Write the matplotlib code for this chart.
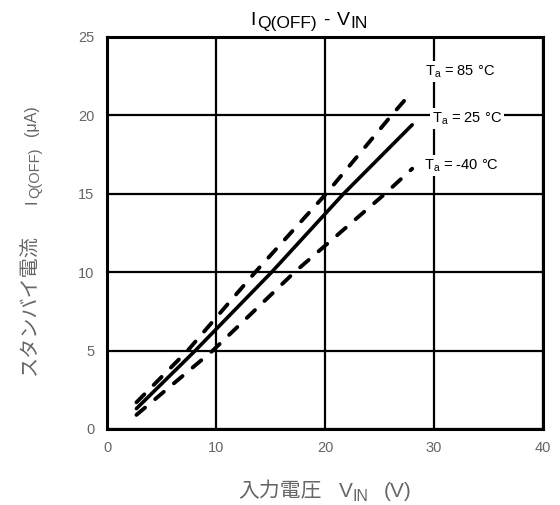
import matplotlib
matplotlib.use("Agg")
import matplotlib.pyplot as plt

plt.rcParams['font.family'] = ['Liberation Sans', 'Noto Sans CJK JP', 'DejaVu Sans']
plt.rcParams['mathtext.fontset'] = 'custom'
plt.rcParams['mathtext.rm'] = 'Liberation Sans'
plt.rcParams['mathtext.it'] = 'Liberation Sans'

# Ta = 85 °C
vin_85 = [2.7, 7.4, 13.6, 20.1, 26.1, 27.6]
i_85 = [1.7, 5.0, 10.0, 15.0, 20.0, 21.2]
# Ta = 25 °C
vin_25 = [2.7, 8.1, 15.1, 21.7, 28.0]
i_25 = [1.3, 5.0, 10.0, 15.0, 19.4]
# Ta = -40 °C
vin_m40 = [2.7, 9.7, 17.2, 25.5, 28.0]
i_m40 = [0.9, 5.0, 10.0, 15.0, 16.6]

x_ticks = [0, 10, 20, 30, 40]
y_ticks = [0, 5, 10, 15, 20, 25]

W, H = 560, 505
fig = plt.figure(figsize=(5.6, 5.05), dpi=100)
ax = fig.add_axes([107/W, 1-429/H, 436/W, 392/H])

dash = (0, (2.9, 3.4))
ax.plot(vin_85, i_85, color='black', lw=2.8, ls=dash, dash_capstyle='round', zorder=3)
ax.plot(vin_25, i_25, color='black', lw=2.6, ls='-', solid_capstyle='round', zorder=3)
ax.plot(vin_m40, i_m40, color='black', lw=2.8, ls=dash, dash_capstyle='round', zorder=3)

ax.set_xlim(0, 40)
ax.set_ylim(0, 25)
ax.set_xticks(x_ticks)
ax.set_yticks(y_ticks)
ax.grid(True, color='black', lw=1.6)
ax.set_axisbelow(True)
for s in ax.spines.values():
    s.set_linewidth(2.2)
ax.tick_params(length=0, labelsize=10.5, colors='#666666', pad=9)

lab_kw = dict(fontsize=10.5, color='black', ha='center', va='center', zorder=4,
              bbox=dict(facecolor='white', edgecolor='none', pad=1.5))
ax.text(32.4, 22.8, r"T$_{\mathrm{a}}$ = 85 °C", **lab_kw)
ax.text(33.0, 19.8, r"T$_{\mathrm{a}}$ = 25 °C", **lab_kw)
ax.text(32.5, 16.8, r"T$_{\mathrm{a}}$ = -40 °C", **lab_kw)

fig.canvas.draw()
r = fig.canvas.get_renderer()
CJK = ['Noto Sans CJK JP', 'DejaVu Sans']
LAT = ['Liberation Sans', 'DejaVu Sans']


def chain(pieces, center, base, color, vertical=False):
    """pieces: (text, size, shift_px, gap_before_px, family)"""
    objs = []
    for txt, size, shift, gap, fam in pieces:
        if vertical:
            t = fig.text(0, 0, txt, fontsize=size, color=color, family=fam,
                         rotation=90, rotation_mode='anchor', ha='left', va='baseline')
        else:
            t = fig.text(0, 0, txt, fontsize=size, color=color, family=fam,
                         ha='left', va='baseline')
        ext = t.get_window_extent(r)
        length = ext.height if vertical else ext.width
        objs.append((t, length, shift, gap))
    total = sum(l + g for _, l, _, g in objs)
    pos = center - total / 2
    for t, l, shift, gap in objs:
        pos += gap
        if vertical:
            t.set_position(((base + shift) / W, pos / H))
        else:
            t.set_position((pos / W, 1 - (base + shift) / H))
        pos += l


chain([("I", 14, 0, 0, LAT), ("Q(OFF)", 12.5, 3, 1, LAT), ("-", 14, 0, 7, LAT),
       ("V", 14, 0, 7, LAT), ("IN", 12.5, 3, 0, LAT)],
      center=309, base=25, color='black')

gray = '#666666'
chain([("入力電圧", 15, 0, 0, CJK), ("V", 15, 0, 17, LAT), ("IN", 11.5, 4, 0, LAT),
       ("(V)", 15, 0, 15, LAT)],
      center=325, base=497, color=gray)

chain([("スタンバイ電流", 14.5, 0, 0, CJK), ("I", 12, 0, 30, LAT), ("Q(OFF)", 10.5, 3, 1, LAT),
       ("(μA)", 11.5, 0, 12, LAT)],
      center=H - 240, base=36, color=gray, vertical=True)

fig.savefig("out.png", dpi=100)
